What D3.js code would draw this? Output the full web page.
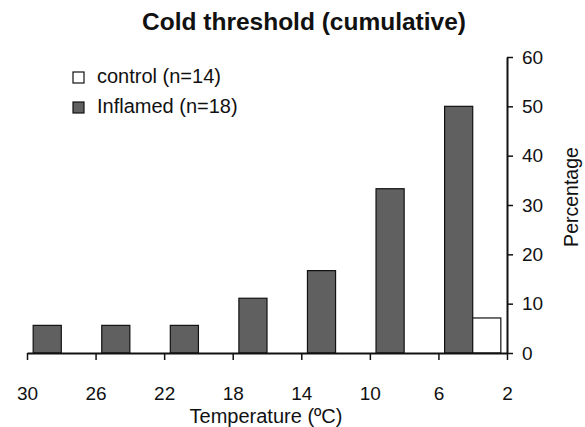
<!DOCTYPE html>
<html>
<head>
<meta charset="utf-8">
<script src="https://cdn.jsdelivr.net/npm/d3@7"></script>
<style>
  html, body { margin: 0; padding: 0; background: #fff; }
  svg { display: block; font-family: "Liberation Sans", Arial, sans-serif; }
</style>
</head>
<body>
<svg id="chart" width="585" height="427"></svg>
<script>
// Temperature bins (°C), read from warm to cold
const temperatures = [30, 26, 22, 18, 14, 10, 6];
const axisTemps = [30, 26, 22, 18, 14, 10, 6, 2];
// Cumulative percentage of animals responding
const inflamedPct = [5.6, 5.6, 5.6, 11.1, 16.7, 33.3, 50];
const controlPct = [0, 0, 0, 0, 0, 0, 7.1];
const yTicks = [0, 10, 20, 30, 40, 50, 60];
const seriesNames = ["inflamed", "control"];
const legendLabels = ["control (n=14)", "Inflamed (n=18)"];

const svg = d3.select("#chart");
const plotLeft = 27, plotRight = 507, plotTop = 57, plotBottom = 353;

const x = d3.scaleLinear().domain([30, 2]).range([plotLeft, plotRight]);
const xBand = d3.scaleBand().domain(temperatures).range([plotLeft, plotRight])
  .paddingInner(0.18).paddingOuter(0.09);
const xSub = d3.scaleBand().domain(seriesNames).range([0, xBand.bandwidth()]);
const y = d3.scaleLinear().domain([0, 60]).range([plotBottom, plotTop]);

const fills = { inflamed: "#606060", control: "#ffffff" };

// Bars
const rows = temperatures.map((t, i) => ({ t, inflamed: inflamedPct[i], control: controlPct[i] }));
const groups = svg.append("g").selectAll("g").data(rows).join("g")
  .attr("transform", d => `translate(${xBand(d.t)},0)`);
groups.selectAll("rect").data(d => seriesNames.map(k => ({ k, v: d[k] }))).join("rect")
  .attr("x", d => xSub(d.k))
  .attr("width", xSub.bandwidth())
  .attr("y", d => y(d.v))
  .attr("height", d => plotBottom - y(d.v))
  .attr("fill", d => fills[d.k])
  .attr("stroke", "#111")
  .attr("stroke-width", 1.2);

// X axis
const xAxis = svg.append("g").attr("transform", `translate(0,${plotBottom})`)
  .call(d3.axisBottom(x).tickValues(axisTemps).tickSize(7).tickSizeOuter(0).tickFormat(d3.format("d")));
xAxis.select(".domain").attr("stroke", "#111").attr("stroke-width", 2);
xAxis.selectAll(".tick line").attr("stroke", "#111").attr("stroke-width", 1.5);
xAxis.selectAll(".tick text").attr("dy", 0).attr("y", 47)
  .attr("font-size", 19).attr("fill", "#111").attr("font-family", "Liberation Sans, Arial, sans-serif");

// Y axis on the right
const yAxis = svg.append("g").attr("transform", `translate(${plotRight},0)`)
  .call(d3.axisRight(y).tickValues(yTicks).tickSize(6).tickSizeOuter(0).tickPadding(0));
yAxis.select(".domain").attr("stroke", "#111").attr("stroke-width", 2);
yAxis.selectAll(".tick line").attr("stroke", "#111").attr("stroke-width", 1.5);
yAxis.selectAll(".tick text").attr("x", 15).attr("text-anchor", "start")
  .attr("font-size", 19).attr("fill", "#111").attr("font-family", "Liberation Sans, Arial, sans-serif");

// Titles
svg.append("text").attr("x", 304).attr("y", 30).attr("text-anchor", "middle")
  .attr("font-size", 24.5).attr("font-weight", "bold").attr("fill", "#111")
  .text("Cold threshold (cumulative)");
svg.append("text").attr("x", 266).attr("y", 423).attr("text-anchor", "middle")
  .attr("font-size", 20).attr("fill", "#111").text("Temperature (ºC)");
svg.append("text").attr("transform", "translate(578,197) rotate(-90)").attr("text-anchor", "middle")
  .attr("font-size", 19.5).attr("fill", "#111").text("Percentage");

// Legend
const legend = svg.append("g").selectAll("g").data(legendLabels).join("g")
  .attr("transform", (d, i) => `translate(73,${72 + i * 30})`);
legend.append("rect").attr("width", 11).attr("height", 11)
  .attr("fill", (d, i) => i === 0 ? fills.control : fills.inflamed)
  .attr("stroke", "#111").attr("stroke-width", 1.2);
legend.append("text").attr("x", 24).attr("y", 11)
  .attr("font-size", 20).attr("fill", "#111").text(d => d);
</script>
</body>
</html>
